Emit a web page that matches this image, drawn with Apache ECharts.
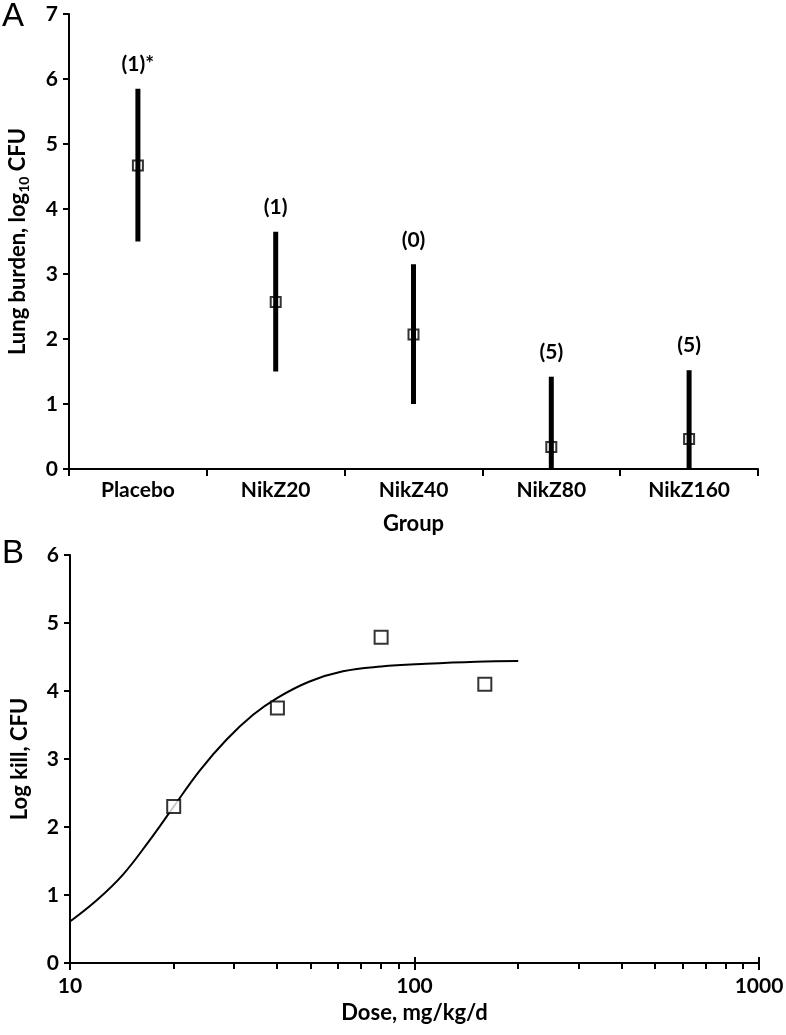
<!DOCTYPE html>
<html>
<head>
<meta charset="utf-8">
<script src="https://cdn.jsdelivr.net/npm/echarts@6/dist/echarts.min.js"></script>
<style>
html,body{margin:0;padding:0;background:#fff;}
#chart{width:786px;height:1035px;}
</style>
</head>
<body>
<div id="chart"></div>
<script>
// Panel A data
const groups = ['Placebo', 'NikZ20', 'NikZ40', 'NikZ80', 'NikZ160'];
const meanBurden = [4.67, 2.57, 2.07, 0.34, 0.46];
const upperBurden = [5.85, 3.65, 3.15, 1.42, 1.52];
const lowerBurden = [3.50, 1.50, 1.00, 0.00, 0.00];
const groupNotes = ['(1)*', '(1)', '(0)', '(5)', '(5)'];
const burdenTicks = [0, 1, 2, 3, 4, 5, 6, 7];

// Panel B data
const doses = [20, 40, 80, 160];
const logKill = [2.30, 3.75, 4.79, 4.10];
const fitDose = [10, 12, 14.25, 17, 20, 23.8, 28.4, 34, 40, 49.6, 62, 80, 108, 151, 200];
const fitKill = [0.61, 0.93, 1.30, 1.80, 2.30, 2.83, 3.28, 3.65, 3.90, 4.14, 4.29, 4.36, 4.40, 4.43, 4.44];
const doseMajorTicks = [10, 100, 1000];
const doseMinorTicks = [20, 30, 40, 50, 60, 70, 80, 90, 200, 300, 400, 500, 600, 700, 800, 900];

const FONT = 'Lato';
const tickFont = {fontFamily: FONT, fontWeight: 'bold', fontSize: 21, color: '#000'};
const titleFont = {fontFamily: FONT, fontWeight: 'bold', fontSize: 22, color: '#000'};
const axisLine = {show: true, lineStyle: {color: '#000', width: 2}};

const chart = echarts.init(document.getElementById('chart'), null, {renderer: 'canvas'});

const panelLetters = [
  {type: 'text', left: 2, top: 0, style: {text: 'A', fontFamily: 'Liberation Sans', fontSize: 33, fill: '#000'}},
  {type: 'text', left: 2, top: 537, style: {text: 'B', fontFamily: 'Liberation Sans', fontSize: 33, fill: '#000'}}
];

const option = {
  backgroundColor: '#fff',
  animation: false,
  graphic: panelLetters,
  grid: [
    {left: 69, top: 14, width: 689, height: 455, outerBoundsMode: 'none', containLabel: false},
    {left: 70, top: 555, width: 689, height: 408, outerBoundsMode: 'none', containLabel: false}
  ],
  xAxis: [
    {
      gridIndex: 0, type: 'category', data: groups, boundaryGap: true, position: 'bottom',
      name: 'Group', nameLocation: 'middle', nameGap: 44, nameTextStyle: titleFont,
      axisLine: axisLine,
      axisTick: {show: true, interval: 0, alignWithLabel: false, length: 7, lineStyle: {color: '#000', width: 2}},
      axisLabel: Object.assign({interval: 0, margin: 11}, tickFont),
      splitLine: {show: false}
    },
    {
      gridIndex: 1, type: 'log', logBase: 10, min: 10, max: 1000, position: 'bottom',
      name: 'Dose, mg/kg/d', nameLocation: 'middle', nameGap: 39, nameTextStyle: titleFont,
      axisLine: axisLine,
      axisTick: {show: false},
      axisLabel: Object.assign({margin: 13, customValues: doseMajorTicks, formatter: v => String(Math.round(v))}, tickFont),
      splitLine: {show: false}
    }
  ],
  yAxis: [
    {
      gridIndex: 0, type: 'value', min: burdenTicks[0], max: burdenTicks[burdenTicks.length - 1], interval: 1,
      name: '{a|Lung burden, log}{s|10}{a| CFU}', nameLocation: 'middle', nameGap: 38,
      nameTextStyle: {
        rich: {
          a: {fontFamily: FONT, fontWeight: 'bold', fontSize: 22, color: '#000', lineHeight: 26},
          s: {fontFamily: FONT, fontWeight: 'bold', fontSize: 14, color: '#000', lineHeight: 16, verticalAlign: 'bottom'}
        }
      },
      axisLine: axisLine,
      axisTick: {show: true, length: 6, lineStyle: {color: '#000', width: 2}},
      axisLabel: Object.assign({margin: 11}, tickFont),
      splitLine: {show: false}
    },
    {
      gridIndex: 1, type: 'value', min: 0, max: 6, interval: 1,
      name: 'Log kill, CFU', nameLocation: 'middle', nameGap: 39, nameTextStyle: titleFont,
      axisLine: axisLine,
      axisTick: {show: true, length: 6, lineStyle: {color: '#000', width: 2}},
      axisLabel: Object.assign({margin: 11}, tickFont),
      splitLine: {show: false}
    }
  ],
  series: [
    {
      type: 'custom', xAxisIndex: 0, yAxisIndex: 0, z: 2,
      data: groups.map((g, i) => [i, lowerBurden[i], upperBurden[i]]),
      renderItem: function (params, api) {
        const lo = api.coord([api.value(0), api.value(1)]);
        const hi = api.coord([api.value(0), api.value(2)]);
        return {
          type: 'group',
          children: [
            {type: 'line', shape: {x1: lo[0], y1: lo[1], x2: hi[0], y2: hi[1]},
              style: {stroke: '#000', lineWidth: 5}},
            {type: 'text', x: hi[0], y: hi[1] - 14,
              style: {text: groupNotes[params.dataIndex], textAlign: 'center', textVerticalAlign: 'bottom',
                fontFamily: FONT, fontWeight: 'bold', fontSize: 21, fill: '#000'}}
          ]
        };
      }
    },
    {
      type: 'scatter', xAxisIndex: 0, yAxisIndex: 0, z: 3,
      data: groups.map((g, i) => [i, meanBurden[i]]),
      symbol: 'rect', symbolSize: 10,
      itemStyle: {color: 'rgba(0,0,0,0)', borderColor: '#000', borderWidth: 2}
    },
    {
      type: 'line', xAxisIndex: 1, yAxisIndex: 1, z: 2,
      data: fitDose.map((d, i) => [d, fitKill[i]]),
      smooth: 0.4, showSymbol: false, symbol: 'none',
      lineStyle: {color: '#000', width: 2}
    },
    {
      type: 'scatter', xAxisIndex: 1, yAxisIndex: 1, z: 3,
      data: doses.map((d, i) => [d, logKill[i]]),
      symbol: 'rect', symbolSize: 13,
      itemStyle: {color: '#fff', borderColor: '#000', borderWidth: 2}
    }
  ]
};
chart.setOption(option);

// Log-axis tick marks: positions come from the axis scale via convertToPixel
function tickLines(values, up, down) {
  return values.map(v => {
    const p = chart.convertToPixel({xAxisIndex: 1, yAxisIndex: 1}, [v, 0]);
    return {type: 'line', z: 100, silent: true,
      shape: {x1: Math.round(p[0]), y1: p[1] - up, x2: Math.round(p[0]), y2: p[1] + down},
      style: {stroke: '#000', lineWidth: 2}};
  });
}
chart.setOption({
  graphic: panelLetters.concat(tickLines(doseMajorTicks, 6, 7), tickLines(doseMinorTicks, 0, 6))
}, {replaceMerge: ['graphic']});
</script>
</body>
</html>
